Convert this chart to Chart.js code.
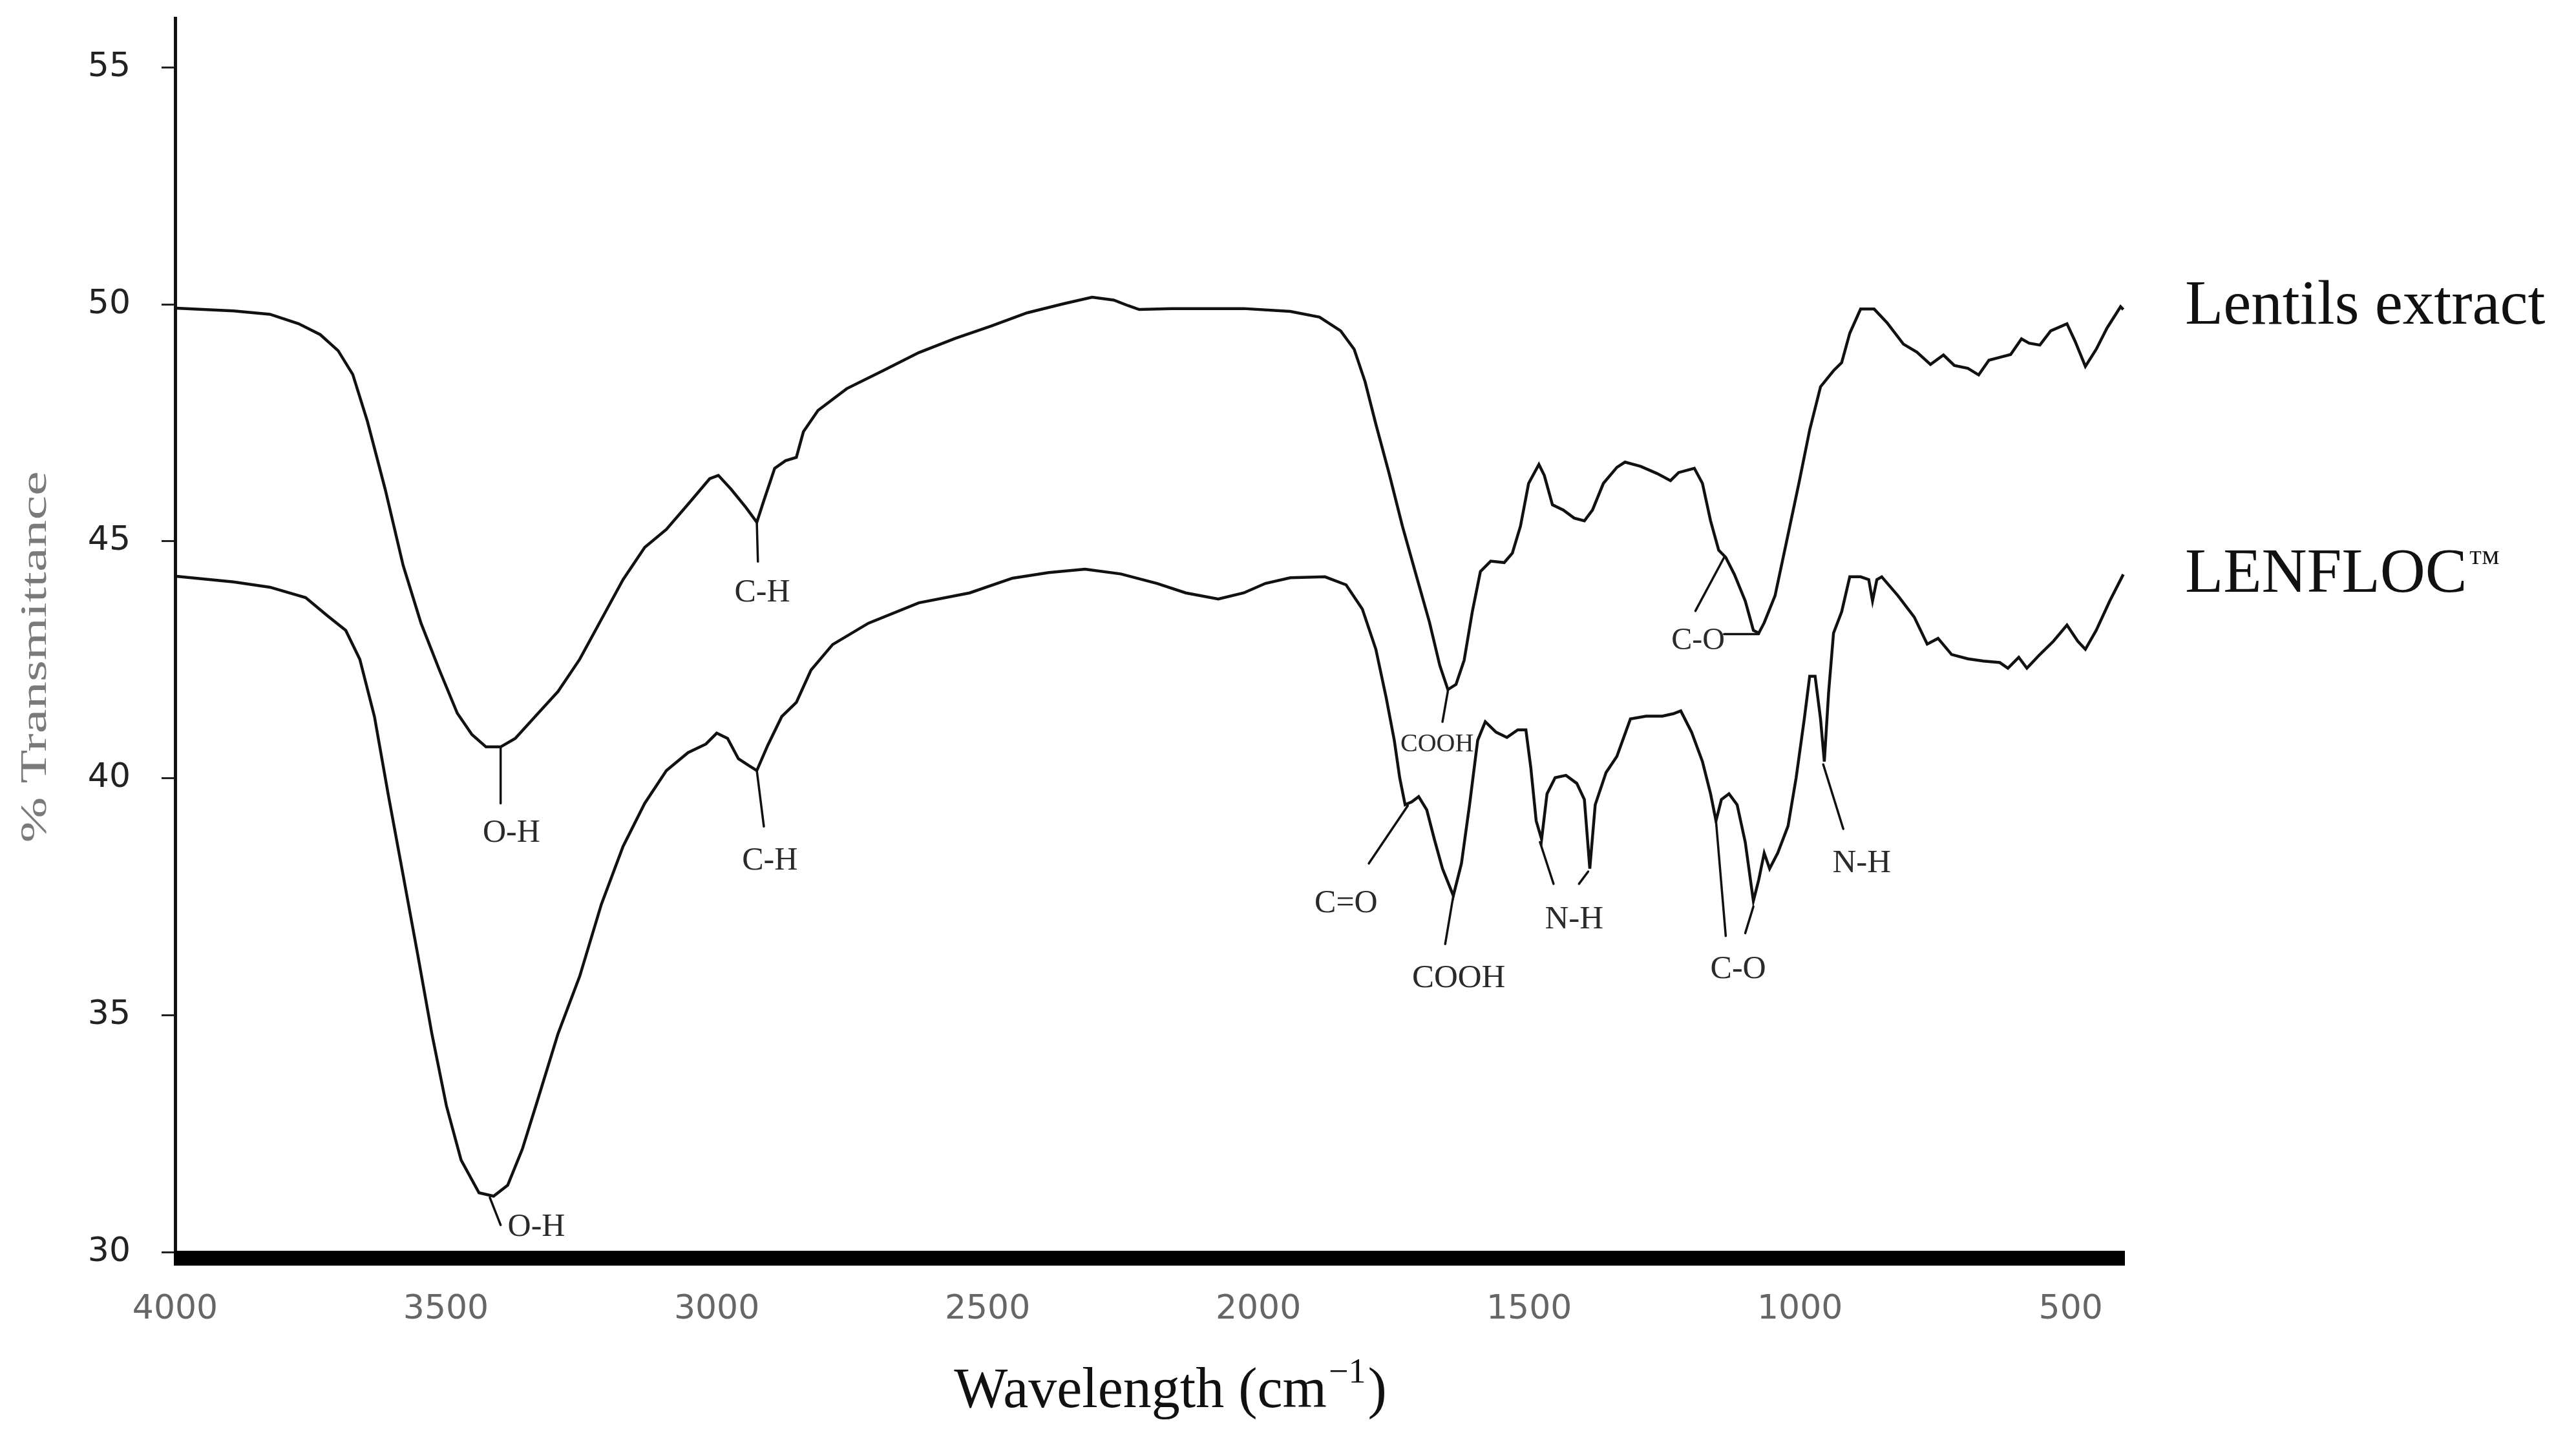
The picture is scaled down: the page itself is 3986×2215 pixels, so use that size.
<!DOCTYPE html>
<html>
<head>
<meta charset="utf-8">
<title>FTIR spectra</title>
<script src="https://cdn.jsdelivr.net/npm/chart.js@4.4.1/dist/chart.umd.min.js"></script>
<style>
  html, body { margin: 0; padding: 0; background: #fff; }
  #wrap { width: 3986px; height: 2215px; }
</style>
</head>
<body>
<div id="wrap"><canvas id="ftirChart"></canvas></div>
<script>
// Axis ticks
const xTickLabels = [4000, 3500, 3000, 2500, 2000, 1500, 1000, 500];
const yTickLabels = [30, 35, 40, 45, 50, 55];

// Lentils extract spectrum (wavenumber, % transmittance)
const lentilsWn = [3998, 3892, 3825, 3772, 3732, 3699, 3672, 3645, 3612, 3579, 3546, 3512, 3479, 3452, 3426, 3399,
  3372, 3333, 3293, 3253, 3213, 3173, 3133, 3093, 3053, 3013, 2997, 2973, 2946, 2926, 2913, 2893, 2873, 2853, 2840,
  2813, 2760, 2693, 2627, 2560, 2494, 2427, 2360, 2307, 2267, 2240, 2220, 2161, 2027, 1941, 1887, 1848, 1823, 1803,
  1783, 1759, 1734, 1709, 1684, 1665, 1650, 1635, 1620, 1605, 1590, 1571, 1546, 1531, 1516, 1501, 1482, 1472, 1457,
  1437, 1417, 1398, 1383, 1363, 1338, 1323, 1294, 1264, 1239, 1224, 1195, 1180, 1165, 1150, 1137, 1121, 1101, 1086,
  1076, 1066, 1046, 1027, 1002, 982, 962, 938, 923, 908, 888, 863, 839, 809, 784, 759, 735, 715, 690, 670, 651, 631,
  611, 591, 577, 557, 537, 507, 492, 473, 453, 433, 408, 403];
const lentilsT = [49.92, 49.86, 49.79, 49.59, 49.36, 49.02, 48.52, 47.53, 46.09, 44.49, 43.27, 42.28, 41.37, 40.92,
  40.66, 40.66, 40.84, 41.33, 41.83, 42.51, 43.35, 44.19, 44.87, 45.25, 45.78, 46.32, 46.39, 46.09, 45.71, 45.40,
  45.86, 46.54, 46.70, 46.77, 47.31, 47.76, 48.22, 48.60, 48.98, 49.28, 49.54, 49.82, 50.01, 50.15, 50.09, 49.97,
  49.89, 49.91, 49.91, 49.85, 49.73, 49.44, 49.05, 48.37, 47.47, 46.45, 45.32, 44.30, 43.29, 42.38, 41.87, 41.98,
  42.49, 43.51, 44.36, 44.58, 44.55, 44.75, 45.32, 46.22, 46.62, 46.39, 45.77, 45.66, 45.49, 45.43, 45.66, 46.22,
  46.56, 46.67, 46.58, 46.43, 46.28, 46.45, 46.54, 46.22, 45.43, 44.81, 44.66, 44.30, 43.74, 43.12, 43.06, 43.28,
  43.85, 44.87, 46.22, 47.35, 48.26, 48.60, 48.77, 49.39, 49.90, 49.90, 49.61, 49.16, 48.99, 48.73, 48.93, 48.71,
  48.65, 48.51, 48.82, 48.88, 48.94, 49.27, 49.18, 49.14, 49.44, 49.59, 49.22, 48.69, 49.05, 49.50, 49.95, 49.89];

// LENFLOC spectrum
const lenflocWn = [3998, 3892, 3825, 3759, 3719, 3685, 3659, 3632, 3606, 3579, 3552, 3526, 3499, 3472, 3439, 3412,
  3386, 3359, 3332, 3293, 3253, 3213, 3173, 3133, 3093, 3053, 3020, 3000, 2980, 2960, 2940, 2926, 2906, 2880, 2853,
  2826, 2786, 2720, 2627, 2533, 2454, 2387, 2320, 2254, 2187, 2134, 2074, 2027, 1987, 1941, 1877, 1838, 1808, 1783,
  1764, 1749, 1739, 1729, 1717, 1704, 1689, 1675, 1660, 1640, 1625, 1610, 1595, 1581, 1561, 1541, 1521, 1506, 1497,
  1487, 1477, 1467, 1452, 1432, 1412, 1398, 1388, 1378, 1358, 1338, 1313, 1284, 1254, 1234, 1220, 1200, 1180, 1165,
  1155, 1145, 1131, 1116, 1101, 1086, 1076, 1066, 1056, 1041, 1022, 1007, 992, 982, 972, 962, 955, 947, 938, 923, 908,
  888, 873, 866, 858, 849, 819, 789, 765, 745, 720, 690, 661, 631, 616, 596, 581, 557, 532, 507, 487, 473, 453, 428, 403];
const lenflocT = [44.26, 44.14, 44.03, 43.81, 43.43, 43.12, 42.51, 41.30, 39.62, 37.95, 36.27, 34.61, 33.08, 31.94,
  31.25, 31.18, 31.41, 32.17, 33.16, 34.61, 35.82, 37.34, 38.56, 39.47, 40.16, 40.54, 40.72, 40.95, 40.84, 40.41,
  40.26, 40.16, 40.69, 41.30, 41.60, 42.28, 42.82, 43.27, 43.70, 43.91, 44.22, 44.34, 44.41, 44.31, 44.11, 43.91,
  43.78, 43.91, 44.11, 44.23, 44.25, 44.08, 43.57, 42.72, 41.70, 40.80, 40.01, 39.44, 39.50, 39.61, 39.33, 38.71,
  38.09, 37.52, 38.20, 39.44, 40.80, 41.19, 40.97, 40.86, 41.02, 41.02, 40.23, 39.10, 38.71, 39.67, 40.01, 40.06,
  39.89, 39.55, 38.09, 39.44, 40.12, 40.46, 41.25, 41.31, 41.31, 41.36, 41.42, 40.97, 40.35, 39.67, 39.10, 39.55,
  39.67, 39.44, 38.65, 37.41, 37.86, 38.42, 38.09, 38.42, 38.99, 40.01, 41.25, 42.15, 42.15, 41.25, 40.35, 41.82,
  43.06, 43.51, 44.25, 44.25, 44.19, 43.74, 44.19, 44.25, 43.85, 43.40, 42.83, 42.95, 42.61, 42.52, 42.47, 42.44,
  42.32, 42.55, 42.32, 42.61, 42.89, 43.23, 42.89, 42.72, 43.12, 43.74, 44.30];

// Band assignments: leader lines [wn1, T1, wn2, T2] and labels [text, wn, T, fontSize]
const leaderLines = [
  [3399, 40.66, 3399, 39.47], [2926, 45.40, 2924, 44.57],
  [3419, 31.15, 3399, 30.57], [2926, 40.16, 2913, 38.98],
  [1650, 41.84, 1660, 41.19],
  [1193, 43.53, 1140, 44.66], [1140, 43.04, 1076, 43.04],
  [1796, 38.20, 1724, 39.42],
  [1640, 37.52, 1655, 36.50],
  [1480, 38.65, 1455, 37.77], [1391, 38.03, 1408, 37.77],
  [1155, 39.10, 1137, 36.67], [1086, 37.29, 1101, 36.73],
  [957, 40.29, 920, 38.93]
];
const bandLabels = [
  ['O-H', 3379, 38.83, 50], ['C-H', 2916, 43.91, 50],
  ['O-H', 3333, 30.52, 50], ['C-H', 2902, 38.25, 50],
  ['COOH', 1670, 40.71, 40], ['C-O', 1188, 42.89, 48],
  ['C=O', 1838, 37.35, 50], ['COOH', 1630, 35.77, 51],
  ['N-H', 1417, 37.01, 51], ['C-O', 1114, 35.96, 50],
  ['N-H', 886, 38.20, 51]
];

const seriesNames = ['Lentils extract', 'LENFLOC'];
const seriesNameT = [49.59, 43.94];

function toPoints(xs, ys) {
  return xs.map((v, i) => ({ x: v, y: ys[i] }));
}

const serif = '"Liberation Serif", "Times New Roman", serif';

// Draws band labels, the heavy baseline, axis titles and series names
const annotate = {
  id: 'annotate',
  afterDraw(chart) {
    const { ctx, chartArea } = chart;
    const xs = chart.scales.x, ys = chart.scales.y;
    const px = v => xs.getPixelForValue(v);
    const py = v => ys.getPixelForValue(v);
    ctx.save();

    ctx.strokeStyle = '#111';
    ctx.lineWidth = 3.5;
    ctx.lineCap = 'round';
    leaderLines.forEach(([a, b, c, d]) => {
      ctx.beginPath();
      ctx.moveTo(px(a), py(b));
      ctx.lineTo(px(c), py(d));
      ctx.stroke();
    });

    ctx.fillStyle = '#2a2a2a';
    ctx.textAlign = 'center';
    ctx.textBaseline = 'middle';
    bandLabels.forEach(([t, a, b, size]) => {
      ctx.save();
      if (b < 31) {
        // this label is partly hidden behind the baseline in the original
        ctx.beginPath();
        ctx.rect(0, 0, chart.width, py(30) - 14);
        ctx.clip();
      }
      ctx.font = size + 'px ' + serif;
      ctx.fillText(t, px(a), py(b));
      ctx.restore();
    });

    // heavy bottom bar
    const y30 = py(30);
    ctx.fillStyle = '#000';
    ctx.fillRect(chartArea.left - 2, y30 - 2, chartArea.right - chartArea.left + 2, 23);

    // y title, squashed
    ctx.save();
    ctx.translate(56, 1017);
    ctx.rotate(-Math.PI / 2);
    ctx.scale(1, 0.66);
    ctx.fillStyle = '#7a7a7a';
    ctx.font = '85px ' + serif;
    ctx.fillText('% Transmittance', 0, 0);
    ctx.restore();

    // x title with superscript
    ctx.fillStyle = '#111';
    ctx.textAlign = 'left';
    ctx.textBaseline = 'alphabetic';
    const mainTxt = 'Wavelength (cm', supTxt = '\u22121', endTxt = ')';
    ctx.font = '88px ' + serif;
    const w1 = ctx.measureText(mainTxt).width, w3 = ctx.measureText(endTxt).width;
    ctx.font = '54px ' + serif;
    const w2 = ctx.measureText(supTxt).width;
    let tx = 1811 - (w1 + w2 + w3 + 6) / 2;
    const base = 2178;
    ctx.font = '88px ' + serif;
    ctx.fillText(mainTxt, tx, base);
    tx += w1 + 3;
    ctx.font = '54px ' + serif;
    ctx.fillText(supTxt, tx, base - 38);
    tx += w2 + 3;
    ctx.font = '88px ' + serif;
    ctx.fillText(endTxt, tx, base);

    // series names
    const nx = chartArea.right + 93;
    ctx.font = '97px ' + serif;
    ctx.fillText(seriesNames[0], nx, py(seriesNameT[0]));
    ctx.fillText(seriesNames[1], nx, py(seriesNameT[1]));
    const wl = ctx.measureText(seriesNames[1]).width;
    ctx.font = '50px ' + serif;
    ctx.fillText('\u2122', nx + wl + 2, py(seriesNameT[1]) - 30);

    ctx.restore();
  }
};

const ctx = document.getElementById('ftirChart').getContext('2d');
const ftirChart = new Chart(ctx, {
  type: 'line',
  data: {
    datasets: [
      {
        label: 'Lentils extract',
        data: toPoints(lentilsWn, lentilsT),
        borderColor: '#111',
        borderWidth: 4.5,
        pointRadius: 0,
        tension: 0,
        fill: false
      },
      {
        label: 'LENFLOC',
        data: toPoints(lenflocWn, lenflocT),
        borderColor: '#111',
        borderWidth: 4.5,
        pointRadius: 0,
        tension: 0,
        fill: false
      }
    ]
  },
  options: {
    responsive: true,
    maintainAspectRatio: false,
    devicePixelRatio: 1,
    animation: false,
    layout: { padding: { left: 0, right: 698, top: 28, bottom: 0 } },
    plugins: {
      legend: { display: false },
      tooltip: { enabled: false },
      title: { display: false }
    },
    scales: {
      x: {
        type: 'linear',
        reverse: true,
        min: 400,
        max: 4000,
        afterBuildTicks: scale => { scale.ticks = xTickLabels.map(v => ({ value: v })); },
        afterFit: scale => { scale.height = 277; scale.paddingLeft = 0; scale.paddingRight = 0; },
        grid: { display: false, drawTicks: false },
        border: { display: false },
        ticks: {
          autoSkip: false,
          maxRotation: 0,
          padding: 58,
          color: '#666',
          font: { family: '"DejaVu Sans"', size: 52 },
          callback: v => String(v)
        }
      },
      y: {
        type: 'linear',
        min: 30,
        max: 56.04,
        afterBuildTicks: scale => { scale.ticks = yTickLabels.map(v => ({ value: v })); },
        afterFit: scale => { scale.width = 271; scale.paddingTop = 0; scale.paddingBottom = 0; },
        grid: { drawOnChartArea: false, drawTicks: true, tickLength: 21, color: '#222', lineWidth: 3 },
        border: { display: true, color: '#111', width: 5 },
        ticks: {
          padding: 48,
          color: '#222',
          font: { family: '"DejaVu Sans"', size: 52 },
          callback: v => String(v)
        }
      }
    }
  },
  plugins: [annotate]
});
</script>
</body>
</html>
